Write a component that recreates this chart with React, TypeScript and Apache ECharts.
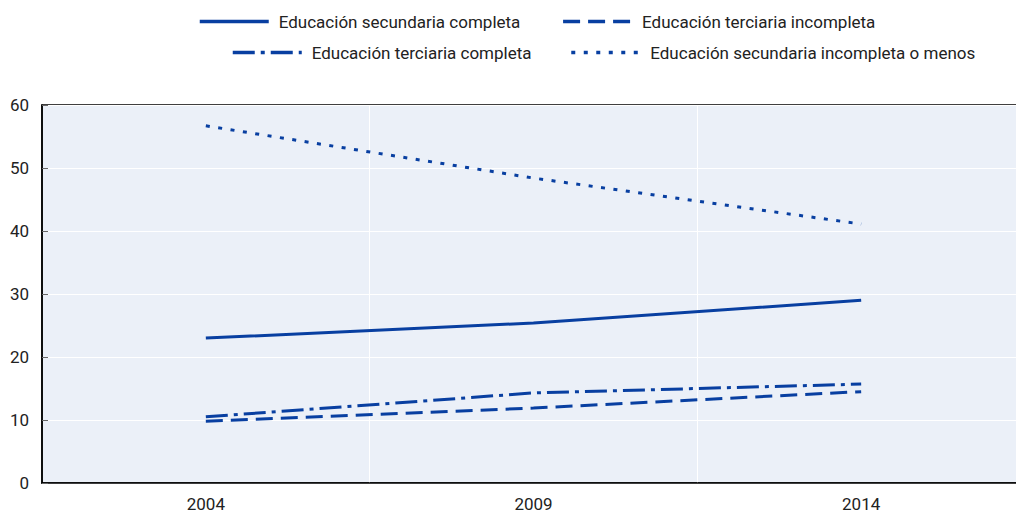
import React, { useEffect, useRef } from "react";
import * as echarts from "echarts";

const axisYears = ["2002","2003","2004","2005","2006","2007","2008","2009","2010","2011","2012","2013","2014","2015","2016"];
const dataYears = ["2004", "2009", "2014"];
const labelYears = ["2004", "2009", "2014"];
const gridYears = ["2007", "2012"];

const seriesNames = [
  "Educación secundaria completa",
  "Educación terciaria incompleta",
  "Educación terciaria completa",
  "Educación secundaria incompleta o menos",
];
const secCompleta = [23.0, 25.4, 29.0];
const tercIncompleta = [9.8, 11.9, 14.5];
const tercCompleta = [10.5, 14.3, 15.7];
const secIncompleta = [56.7, 48.4, 41.1];

const yTicks = [0, 10, 20, 30, 40, 50, 60];

const COLOR = "#083fa1";
const FONT = "Roboto";

function toAxis(values: number[]) {
  return axisYears.map((y) => {
    const i = dataYears.indexOf(y);
    return i >= 0 ? values[i] : null;
  });
}

export default function App() {
  const ref = useRef<HTMLDivElement>(null);
  useEffect(() => {
    document.body.style.margin = "0";
    const chart = echarts.init(ref.current!, undefined, { renderer: "svg" });
    const dashes: any[] = ["solid", [17, 8], [22, 6, 4, 6], [4, 8.5]];
    const values = [secCompleta, tercIncompleta, tercCompleta, secIncompleta];
    const legendText = { fontFamily: FONT, fontSize: 17, color: "#222", padding: [0, 0, 0, 5] };
    const legendCommon = {
      itemWidth: 69,
      itemHeight: 20,
      textStyle: legendText,
      itemStyle: { opacity: 0 },
      lineStyle: { width: 3.5 },
    };
    chart.setOption({
      animation: false,
      textStyle: { fontFamily: FONT },
      legend: [
        {
          ...legendCommon,
          data: [seriesNames[0], seriesNames[1]],
          left: 193,
          top: 8,
          itemGap: 41,
        },
        {
          ...legendCommon,
          data: [seriesNames[2], seriesNames[3]],
          left: 226,
          top: 39,
          itemGap: 38,
        },
      ],
      grid: {
        left: 42,
        width: 983,
        top: 105,
        bottom: 30,
        show: true,
        containLabel: false,
        outerBoundsMode: "none",
        backgroundColor: "#ebf0f8",
        borderColor: "#000",
        borderWidth: 1.5,
      },
      xAxis: {
        type: "category",
        data: axisYears,
        boundaryGap: true,
        axisLine: { lineStyle: { color: "#000", width: 1.5 } },
        axisTick: {
          inside: true,
          length: 6,
          interval: (i: number, v: string) => gridYears.includes(v),
          lineStyle: { color: "#000" },
        },
        axisLabel: {
          interval: (i: number, v: string) => labelYears.includes(v),
          fontFamily: FONT,
          fontSize: 17,
          color: "#222",
          margin: 12,
        },
        splitLine: {
          show: true,
          interval: (i: number, v: string) => gridYears.includes(v),
          lineStyle: { color: "#fff", width: 1 },
        },
      },
      yAxis: {
        type: "value",
        min: yTicks[0],
        max: yTicks[yTicks.length - 1],
        interval: 10,
        axisLine: { show: true, lineStyle: { color: "#000", width: 1.5 } },
        axisTick: { show: true, inside: true, length: 6, lineStyle: { color: "#666" } },
        axisLabel: { fontFamily: FONT, fontSize: 17, color: "#222", margin: 13 },
        splitLine: { show: true, lineStyle: { color: "#fff", width: 1 } },
      },
      series: seriesNames.map((name, k) => ({
        name,
        type: "line",
        data: toAxis(values[k]),
        connectNulls: true,
        symbol: "none",
        lineStyle: { color: COLOR, width: 3, type: dashes[k] },
        itemStyle: { color: COLOR },
      })),
    });
    return () => chart.dispose();
  }, []);
  return <div ref={ref} style={{ width: 1016, height: 513 }} />;
}
